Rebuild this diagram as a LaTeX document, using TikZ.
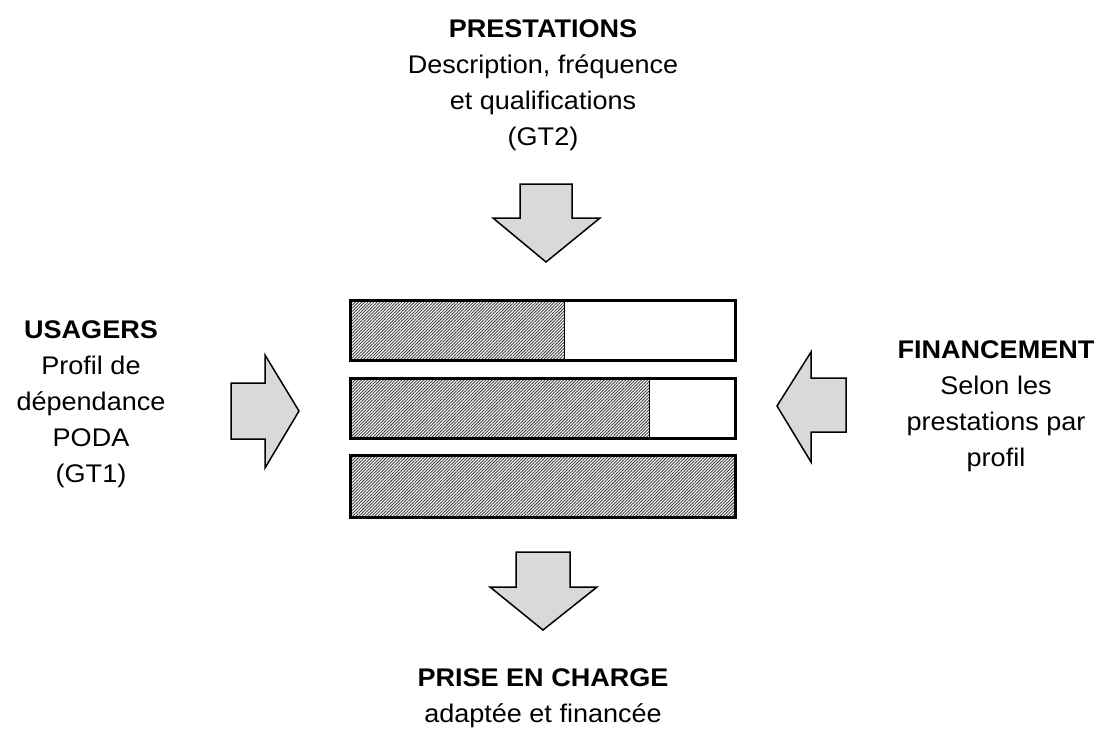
\documentclass[tikz,border=0pt]{standalone}
\usepackage{fontspec}
\setmainfont[FakeStretch=1.06]{Liberation Sans}
\usetikzlibrary{patterns.meta}
\definecolor{arrowgray}{HTML}{D9D9D9}
\tikzset{
  x=1pt, y=-1pt,
  blockarrow/.style={draw=black, line width=1.5pt, fill=arrowgray, line join=miter},
  barframe/.style={draw=black, line width=3pt},
  hatched/.style={pattern={Lines[angle=45,distance=2.2pt,line width=0.9pt]}, pattern color=black!75},
  label/.style={align=center, anchor=base, inner sep=0pt, font=\fontsize{25.5}{36}\selectfont},
}
\begin{document}
\begin{tikzpicture}
\useasboundingbox (0,0) rectangle (1101,729);
% bars
\fill[hatched] (350,300) rectangle (564,360);
\draw[line width=1pt] (564,300) -- (564,360);
\draw[barframe] (350,300) rectangle (735,360);
\fill[hatched] (350,378) rectangle (649,438);
\draw[line width=1pt] (649,378) -- (649,438);
\draw[barframe] (350,378) rectangle (735,438);
\fill[hatched] (350,455) rectangle (735,517);
\draw[barframe] (350,455) rectangle (735,517);
% block arrows
\draw[blockarrow] (520,184) -- (572,184) -- (572,218) -- (600,218) -- (546,262) -- (493,218) -- (520,218) -- cycle;
\draw[blockarrow] (516,552) -- (570,552) -- (570,587) -- (597,587) -- (543,630) -- (490,587) -- (516,587) -- cycle;
\draw[blockarrow] (231,383) -- (265,383) -- (265,355) -- (299,411) -- (265,468) -- (265,439) -- (231,439) -- cycle;
\draw[blockarrow] (846,378) -- (811,378) -- (811,352) -- (777,406) -- (811,462) -- (811,432) -- (846,432) -- cycle;
% texts (anchor base = baseline of the last line)
\node[label] (prest) at (543,145.5) {\textbf{PRESTATIONS}\\Description, fréquence\\et qualifications\\(GT2)};
\node[label] (usag) at (91,482) {\textbf{USAGERS}\\Profil de\\dépendance\\PODA\\(GT1)};
\node[label] (fin) at (996,466) {\textbf{FINANCEMENT}\\Selon les\\prestations par\\profil};
\node[label] (prise) at (543,722) {\textbf{PRISE EN CHARGE}\\adaptée et financée};
\end{tikzpicture}
\end{document}
